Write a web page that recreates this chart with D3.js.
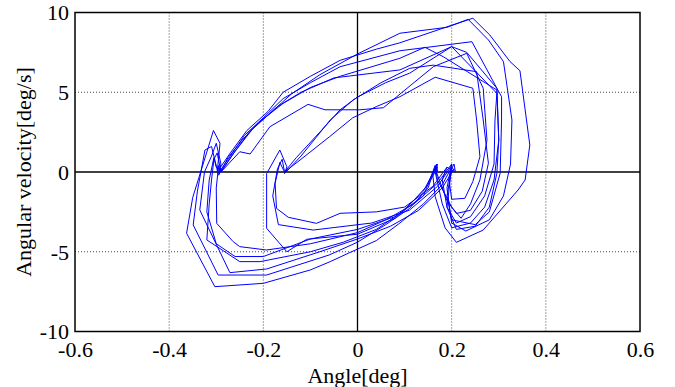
<!DOCTYPE html>
<html>
<head>
<meta charset="utf-8">
<script src="https://cdn.jsdelivr.net/npm/d3@7"></script>
<style>
  html, body { margin: 0; padding: 0; background: #fff; }
  svg { display: block; }
  svg text { font-family: "Liberation Serif", "Times New Roman", serif !important; fill: #000; }
</style>
</head>
<body>
<svg id="chart" width="675" height="387"></svg>
<script>
// ---- Data (angle [deg], angular velocity [deg/s]) ----
const xTicks = [-0.6, -0.4, -0.2, 0, 0.2, 0.4, 0.6];
const yTicks = [-10, -5, 0, 5, 10];
const xTickLabels = ["-0.6", "-0.4", "-0.2", "0", "0.2", "0.4", "0.6"];
const yTickLabels = ["-10", "-5", "0", "5", "10"];
const xTitle = "Angle[deg]";
const yTitle = "Angular velocity[deg/s]";

// lower half-cycles (right cusp -> left)
const lowerA = [[0.2,0.3],[0.18,-0.8],[0.14,-2.0],[0.09,-3.2],[0.04,-4.3],[-0.02,-5.1],[-0.058,-5.62],[-0.1,-6.14],[-0.2,-6.98],[-0.303,-7.19],[-0.363,-3.84],[-0.35,-1.6],[-0.33,0.3],[-0.306,2.6],[-0.292,1.8],[-0.298,0.0]];
const lowerB = [[0.165,0.4],[0.15,-1.0],[0.11,-2.3],[0.06,-3.3],[0.0,-4.4],[-0.06,-5.2],[-0.193,-6.46],[-0.296,-6.46],[-0.349,-3.32],[-0.34,-1.2],[-0.324,1.38],[-0.31,1.6],[-0.296,-0.1]];
const lowerC = [[0.205,0.2],[0.18,-1.0],[0.13,-2.4],[0.07,-3.4],[0.0,-4.2],[-0.08,-5.0],[-0.193,-6.08],[-0.271,-6.31],[-0.335,-2.38],[-0.325,0.0],[-0.31,1.0],[-0.3,1.8],[-0.29,0.5],[-0.295,-0.2]];
const lowerD = [[0.17,0.3],[0.15,-0.8],[0.1,-2.4],[0.04,-3.6],[-0.03,-4.4],[-0.1,-5.0],[-0.207,-5.62],[-0.25,-5.62],[-0.32,-4.26],[-0.315,-2.0],[-0.31,-0.5],[-0.305,0.8],[-0.298,1.2],[-0.29,0.0]];
const lowerE = [[0.2,0.5],[0.17,-0.7],[0.12,-2.0],[0.06,-3.0],[0.0,-3.8],[-0.1,-4.5],[-0.193,-4.89],[-0.25,-4.68],[-0.264,-4.37],[-0.299,-3.22],[-0.3,-1.0],[-0.295,0.4],[-0.288,0.1]];
const lowerF = [[0.19,0.3],[0.16,-0.9],[0.1,-2.2],[0.04,-2.5],[-0.037,-2.59],[-0.087,-3.22],[-0.147,-2.84],[-0.172,-2.28],[-0.175,-0.71],[-0.165,0.6],[-0.155,0.0]];
const lowerG = [[0.165,0.2],[0.14,-1.2],[0.08,-2.9],[0.0,-3.9],[-0.108,-4.22],[-0.15,-5.0],[-0.193,-3.53],[-0.193,-0.1],[-0.165,1.38],[-0.15,0.33],[-0.155,-0.1]];
const lowerH = [[0.2,0.4],[0.17,-0.9],[0.11,-2.4],[0.03,-3.2],[-0.094,-3.64],[-0.168,-3.3],[-0.18,-1.5],[-0.17,0.2],[-0.16,0.8],[-0.155,0.0]];
const lowerX = [[0.165,0.4],[0.14,-1.5],[0.08,-2.8],[0.0,-3.6],[-0.1,-4.2],[-0.2,-5.3],[-0.26,-5.3],[-0.3,-4.5],[-0.32,-2.5],[-0.315,-0.5],[-0.305,0.9],[-0.3,0.3],[-0.288,0.1]];

// upper half-cycles (left cusp -> right cusp)
const upperA = [[-0.298,0.0],[-0.27,1.2],[-0.235,2.6],[-0.19,3.8],[-0.158,5.0],[-0.1,6.0],[-0.037,7.0],[0.04,7.7],[0.09,8.1],[0.19,9.1],[0.245,9.64],[0.281,8.59],[0.324,6.92],[0.345,6.35],[0.366,1.69],[0.356,-0.5],[0.341,-1.13],[0.267,-3.64],[0.21,-4.41],[0.186,-3.5],[0.165,-1.55],[0.16,-0.2],[0.168,0.5],[0.17,0.0]];
const upperB = [[-0.296,-0.1],[-0.27,1.0],[-0.24,2.3],[-0.2,3.4],[-0.158,4.6],[-0.1,5.6],[-0.037,6.6],[0.09,7.6],[0.243,8.17],[0.296,5.25],[0.306,4.72],[0.306,3.26],[0.303,-0.08],[0.28,-2.5],[0.25,-3.3],[0.2,-3.0],[0.19,-1.5],[0.2,0.2],[0.205,0.5],[0.208,0.0]];
const upperC = [[-0.295,-0.2],[-0.275,0.9],[-0.245,2.0],[-0.21,3.1],[-0.158,4.3],[-0.1,5.3],[-0.037,6.0],[0.09,7.13],[0.143,7.82],[0.182,7.23],[0.296,5.14],[0.3,2.0],[0.29,-0.5],[0.27,-2.2],[0.24,-3.2],[0.2,-3.5],[0.18,-2.0],[0.165,0.0],[0.17,0.5],[0.165,0.3]];
const upperD = [[-0.29,0.0],[-0.265,1.1],[-0.23,2.5],[-0.185,3.7],[-0.14,4.9],[-0.08,6.1],[0.0,7.4],[0.09,8.7],[0.19,9.07],[0.235,9.57],[0.278,8.28],[0.31,6.92],[0.328,3.26],[0.325,0.5],[0.31,-1.5],[0.28,-3.0],[0.23,-3.7],[0.2,-3.2],[0.19,-1.0],[0.2,0.5],[0.2,0.4]];
const upperE = [[-0.288,0.1],[-0.26,1.3],[-0.22,2.8],[-0.17,4.1],[-0.12,5.0],[-0.05,5.9],[0.09,6.4],[0.2,7.86],[0.296,4.93],[0.292,3.26],[0.29,0.5],[0.27,-1.5],[0.24,-2.8],[0.21,-3.2],[0.19,-2.2],[0.18,-0.5],[0.19,0.3]];
const upperF = [[-0.155,0.0],[-0.122,0.75],[-0.06,2.2],[-0.01,3.4],[0.04,4.1],[0.09,4.72],[0.165,5.94],[0.245,5.25],[0.253,3.26],[0.26,0.96],[0.245,-0.6],[0.228,-1.65],[0.2,-1.71],[0.195,-0.6],[0.2,0.3],[0.205,0.1]];
const upperG = [[-0.155,-0.1],[-0.12,1.0],[-0.058,3.26],[-0.01,4.5],[0.05,5.6],[0.111,6.5],[0.161,6.7],[0.253,6.29],[0.267,3.26],[0.278,0.55],[0.265,-1.2],[0.24,-2.4],[0.21,-2.6],[0.19,-1.8],[0.165,0.2]];
const upperH = [[-0.29,0.0],[-0.25,1.27],[-0.228,1.13],[-0.186,2.84],[-0.105,4.24],[-0.069,3.9],[0.005,3.9],[0.055,4.03],[0.161,6.6],[0.232,7.44],[0.267,5.25],[0.275,2.0],[0.26,-0.5],[0.24,-2.0],[0.22,-2.9],[0.2,-2.2],[0.17,-0.5],[0.165,0.4]];
const upperI = [[-0.155,0.0],[-0.13,0.9],[-0.08,2.5],[-0.037,3.9],[0.0,4.7],[0.06,5.6],[0.111,6.2],[0.2,7.86],[0.232,7.5],[0.296,5.25],[0.3,2.0],[0.296,-0.08],[0.28,-2.2],[0.25,-3.4],[0.21,-3.6],[0.19,-2.2],[0.2,0.3]];

// order in which the half-cycles were traversed
const trajectory = [lowerA, upperA, lowerB, upperB, lowerF, upperF, lowerC, upperC, lowerG, upperG,
                    lowerD, upperD, lowerH, upperI, lowerE, upperH, lowerX, upperE];

// ---- Drawing ----
const W = 675, H = 387;
const m = { left: 75, right: 640, top: 12.5, bottom: 331.5 };
const svg = d3.select("#chart");

const x = d3.scaleLinear().domain([-0.6, 0.6]).range([m.left, m.right]);
const y = d3.scaleLinear().domain([-10, 10]).range([m.bottom, m.top]);

// dotted grid
const grid = svg.append("g");
xTicks.filter(v => v !== 0 && Math.abs(v) !== 0.6).forEach(v => {
  grid.append("line").attr("x1", x(v)).attr("x2", x(v)).attr("y1", m.top).attr("y2", m.bottom)
    .attr("stroke", "#444").attr("stroke-width", 1).attr("stroke-dasharray", "1,2");
});
yTicks.filter(v => v !== 0 && Math.abs(v) !== 10).forEach(v => {
  grid.append("line").attr("x1", m.left).attr("x2", m.right).attr("y1", y(v)).attr("y2", y(v))
    .attr("stroke", "#444").attr("stroke-width", 1).attr("stroke-dasharray", "1,2");
});

// zero lines
svg.append("line").attr("x1", x(0)).attr("x2", x(0)).attr("y1", m.top).attr("y2", m.bottom)
  .attr("stroke", "#000").attr("stroke-width", 1.3);
svg.append("line").attr("x1", m.left).attr("x2", m.right).attr("y1", y(0)).attr("y2", y(0))
  .attr("stroke", "#000").attr("stroke-width", 1.3);

// trajectory
const pts = trajectory.flat();
const line = d3.line().x(d => x(d[0])).y(d => y(d[1]));
svg.append("path").datum(pts).attr("d", line)
  .attr("fill", "none").attr("stroke", "#0000ff").attr("stroke-width", 1)
  .attr("stroke-linejoin", "miter");

// frame
svg.append("rect").attr("x", m.left).attr("y", m.top)
  .attr("width", m.right - m.left).attr("height", m.bottom - m.top)
  .attr("fill", "none").attr("stroke", "#000").attr("stroke-width", 1.5);

// axes (labels only, via d3 axes)
const xAxis = d3.axisBottom(x).tickValues(xTicks).tickSize(0).tickPadding(0)
  .tickFormat((d, i) => xTickLabels[i]);
const gx = svg.append("g").attr("transform", `translate(0,${m.bottom})`).call(xAxis);
gx.attr("font-family", null).attr("font-size", 22);
gx.select(".domain").remove();
gx.selectAll("text").style("font-size", "22px")
  .attr("dy", null).attr("y", 25).attr("fill", "#000");

const yAxis = d3.axisLeft(y).tickValues(yTicks).tickSize(0).tickPadding(0)
  .tickFormat((d, i) => yTickLabels[i]);
const gy = svg.append("g").attr("transform", `translate(${m.left - 6},0)`).call(yAxis);
gy.attr("font-family", null).attr("font-size", 22);
gy.select(".domain").remove();
gy.selectAll("text").style("font-size", "22px")
  .attr("dy", "0.33em").attr("fill", "#000");

// titles
svg.append("text").attr("x", (m.left + m.right) / 2).attr("y", 383)
  .attr("text-anchor", "middle").style("font-size", "22px").text(xTitle);
svg.append("text").attr("transform", `translate(31,${(m.top + m.bottom) / 2}) rotate(-90)`)
  .attr("text-anchor", "middle").style("font-size", "22px").text(yTitle);
</script>
</body>
</html>
